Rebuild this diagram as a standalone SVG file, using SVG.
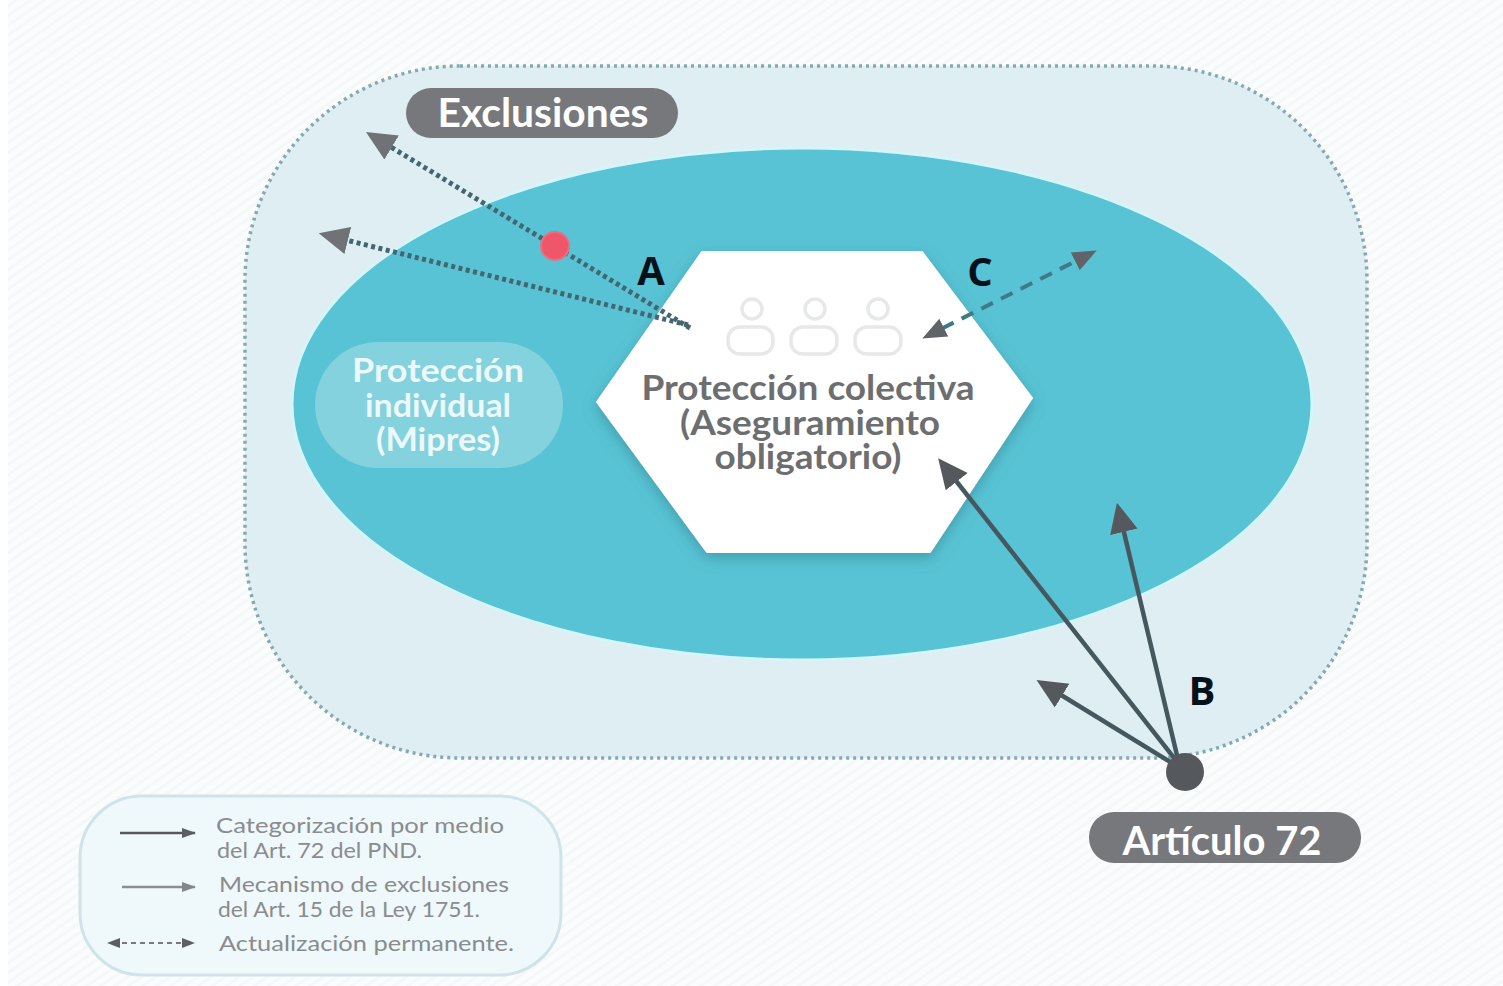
<svg xmlns="http://www.w3.org/2000/svg" width="1503" height="986" viewBox="0 0 1503 986">
<style>
text{font-family:"Lato","Open Sans","Liberation Sans",sans-serif}
.pill{fill:#77787b}
.pilltxt{fill:#fff;font-size:40px;font-weight:700;text-anchor:middle}
.hextxt{fill:#6d6e70;font-size:34px;font-weight:700;text-anchor:middle}
.indtxt{fill:#ecf8fa;font-size:33px;font-weight:700;text-anchor:middle}
.leg{fill:#8a8c8e;font-size:20.5px}
.letter{font-family:"Open Sans","Liberation Sans",sans-serif;font-weight:700;fill:#04101a;font-size:40px;text-anchor:middle}
.dot{fill:none;stroke:#446670;stroke-width:5;stroke-dasharray:4 3.5}
.solid{fill:none;stroke:#46585f;stroke-width:4.5}
.icon{fill:none;stroke:#e7e8e8;stroke-width:3.5}
</style>
<defs>
<pattern id="stripes" width="8" height="8" patternUnits="userSpaceOnUse" patternTransform="rotate(-35)">
<rect width="8" height="8" fill="#fbfcfd"/><rect width="8" height="3" fill="#f4f8f9"/>
</pattern>
<marker id="hg" viewBox="0 0 30 30" refX="6" refY="15" markerWidth="30" markerHeight="30" markerUnits="userSpaceOnUse" orient="auto"><path d="M0 1L30 15L0 29Z" fill="#6f7276"/></marker>
<marker id="hd" viewBox="0 0 30 30" refX="6" refY="15" markerWidth="30" markerHeight="30" markerUnits="userSpaceOnUse" orient="auto"><path d="M0 1L30 15L0 29Z" fill="#55585c"/></marker>
<marker id="hs" viewBox="0 0 24 24" refX="2" refY="12" markerWidth="24" markerHeight="24" markerUnits="userSpaceOnUse" orient="auto-start-reverse"><path d="M0 2L24 12L0 22Z" fill="#606468"/></marker>
<marker id="hl" viewBox="0 0 14 14" refX="13" refY="7" markerWidth="14" markerHeight="14" markerUnits="userSpaceOnUse" orient="auto"><path d="M0 2L14 7L0 12Z" fill="#5b5f63"/></marker>
<marker id="hl2" viewBox="0 0 14 14" refX="13" refY="7" markerWidth="14" markerHeight="14" markerUnits="userSpaceOnUse" orient="auto"><path d="M0 2L14 7L0 12Z" fill="#85888b"/></marker>
<filter id="sh" x="-10%" y="-10%" width="120%" height="125%"><feDropShadow dx="0" dy="5" stdDeviation="7" flood-color="#2f7f8d" flood-opacity=".55"/></filter>
</defs>

<rect width="1503" height="986" fill="#fff"/>
<rect x="8" width="1495" height="986" fill="url(#stripes)"/>

<g id="articulo-72-area">
<rect x="245" y="66" width="1122" height="692" rx="215" ry="215" fill="#deeef3" stroke="#86a9b0" stroke-width="3.5" stroke-dasharray="3 4"/>
</g>
<g id="aseguramiento-area">
<ellipse cx="802" cy="404" rx="510" ry="256" fill="#58c3d4" stroke="#d4f5f9" stroke-width="3"/>
</g>
<g id="proteccion-individual">
<rect x="315" y="342" width="248" height="126" rx="63" fill="#83d2dd"/>
<text class="indtxt" x="438" y="382" textLength="172" lengthAdjust="spacingAndGlyphs">Protección</text>
<text class="indtxt" x="438" y="417" textLength="146" lengthAdjust="spacingAndGlyphs">individual</text>
<text class="indtxt" x="438" y="451" textLength="124" lengthAdjust="spacingAndGlyphs">(Mipres)</text>
</g>
<g id="proteccion-colectiva">
<polygon points="597,402 702,252 922,252 1032,398 930,552 707,552" fill="#fff" stroke="#fff" stroke-width="2" stroke-linejoin="round" filter="url(#sh)"/>
<circle class="icon" cx="752" cy="309" r="10"/><rect class="icon" x="728" y="327" width="45" height="27" rx="12"/>
<circle class="icon" cx="815" cy="309" r="10"/><rect class="icon" x="791" y="327" width="46" height="27" rx="12"/>
<circle class="icon" cx="878" cy="309" r="10"/><rect class="icon" x="855" y="327" width="46" height="27" rx="12"/>
<text class="hextxt" x="808" y="400" textLength="333" lengthAdjust="spacingAndGlyphs">Protección colectiva</text>
<text class="hextxt" x="810" y="435" textLength="260" lengthAdjust="spacingAndGlyphs">(Aseguramiento</text>
<text class="hextxt" x="808" y="469" textLength="187" lengthAdjust="spacingAndGlyphs">obligatorio)</text>
</g>
<g id="connectors">
<line class="dot" x1="690" y1="328" x2="386.5" y2="144.4" marker-end="url(#hg)"/>
<line class="dot" x1="688" y1="325" x2="342" y2="239" marker-end="url(#hg)"/>
<line x1="942" y1="328.5" x2="1077" y2="260.5" fill="none" stroke="#3f7a87" stroke-width="4" stroke-dasharray="13 9" marker-start="url(#hs)" marker-end="url(#hs)"/>
<line class="solid" x1="1182" y1="768" x2="953" y2="477" marker-end="url(#hd)"/>
<line class="solid" x1="1180" y1="768" x2="1122.5" y2="526" marker-end="url(#hd)"/>
<line class="solid" x1="1180" y1="768" x2="1057" y2="692.5" marker-end="url(#hd)"/>
</g>
<g id="punto-exclusiones"><circle cx="555" cy="246" r="14" fill="#f0566a" stroke="#e8707f" stroke-width="2"/></g>
<g id="punto-articulo"><circle cx="1185" cy="772" r="19" fill="#55585c"/></g>
<g id="exclusiones">
<rect class="pill" x="406" y="88" width="272" height="50" rx="25"/>
<text class="pilltxt" x="543" y="127" textLength="211" lengthAdjust="spacingAndGlyphs">Exclusiones</text>
</g>
<g id="articulo-72">
<rect class="pill" x="1089" y="812" width="272" height="51" rx="25"/>
<text class="pilltxt" x="1222" y="855" textLength="199" lengthAdjust="spacingAndGlyphs">Artículo 72</text>
</g>
<g id="letras">
<text class="letter" x="651" y="285">A</text>
<text class="letter" x="980" y="286">C</text>
<text class="letter" x="1202" y="705">B</text>
</g>
<g id="leyenda">
<rect x="80" y="796" width="481" height="179" rx="62" fill="#eff8fa" stroke="#cfe4e9" stroke-width="3"/>
<line x1="120" y1="833" x2="195" y2="833" stroke="#55595d" stroke-width="2.5" marker-end="url(#hl)"/>
<line x1="122" y1="887" x2="195" y2="887" stroke="#8c8f92" stroke-width="2.5" marker-end="url(#hl2)"/>
<line x1="122" y1="943" x2="183" y2="943" stroke="#77797c" stroke-width="2" stroke-dasharray="5 4"/>
<path d="M107 943L120 938V948Z" fill="#5b5f63"/>
<path d="M195 943L182 938V948Z" fill="#5b5f63"/>
<text class="leg" x="216" y="833" textLength="288" lengthAdjust="spacingAndGlyphs">Categorización por medio</text>
<text class="leg" x="217" y="858" textLength="205" lengthAdjust="spacingAndGlyphs">del Art. 72 del PND.</text>
<text class="leg" x="219" y="892" textLength="290" lengthAdjust="spacingAndGlyphs">Mecanismo de exclusiones</text>
<text class="leg" x="218" y="917" textLength="262" lengthAdjust="spacingAndGlyphs">del Art. 15 de la Ley 1751.</text>
<text class="leg" x="219" y="951" textLength="295" lengthAdjust="spacingAndGlyphs">Actualización permanente.</text>
</g>
</svg>
